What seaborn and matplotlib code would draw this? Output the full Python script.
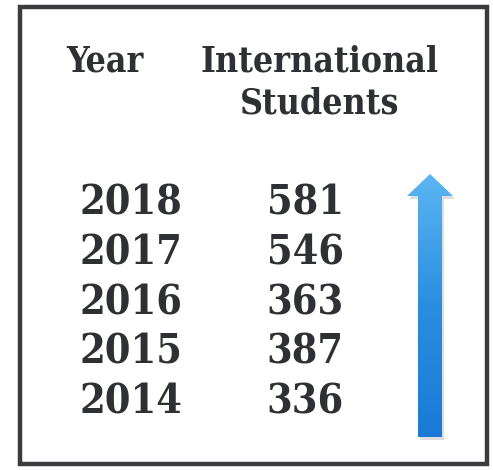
import numpy as np
import pandas as pd
import matplotlib
matplotlib.use("Agg")
import matplotlib.pyplot as plt
import seaborn as sns
from matplotlib.patches import Rectangle, Polygon

years = ["2018", "2017", "2016", "2015", "2014"]
students = [581, 546, 363, 387, 336]
headers = ["Year", "International", "Students"]

sns.set_theme(style="white")
plt.rcParams['font.family'] = ['DejaVu Serif', 'DejaVu Sans']

W, H = 493, 470
fig = plt.figure(figsize=(W / 100, H / 100), dpi=100)
ax = fig.add_axes([0, 0, 1, 1])
ax.set_xlim(0, W)
ax.set_ylim(H, 0)
ax.axis("off")

txt = "#2f3033"
# border
ax.add_patch(Rectangle((20, 7), 467, 457, fill=False, lw=3.2, edgecolor="#3a3b3e"))

# headers
hs = dict(ha="center", va="center", fontsize=25.5, fontweight="bold", color=txt, stretch="condensed")
ax.text(105, 61, headers[0], **hs)
ax.text(320, 61, headers[1], **hs)
ax.text(320, 104, headers[2], **hs)

# rows
df = pd.DataFrame({"year": years, "students": students})
row_y0, row_dy = 203.5, 49.8
rs = dict(ha="center", va="center", fontsize=29.5, fontweight="bold", color=txt, stretch="condensed")
for i, r in df.iterrows():
    y = row_y0 + i * row_dy
    ax.text(131, y, r["year"], **rs)
    ax.text(305, y, str(r["students"]), **rs)

# arrow with gradient
pts = [(418, 437), (418, 196), (407, 196), (430, 174), (453, 196), (442, 196), (442, 437)]
shadow = Polygon([(x + 2, y + 3) for x, y in pts], closed=True, facecolor="#c8c8c8", edgecolor="none", alpha=0.6)
ax.add_patch(shadow)
poly = Polygon(pts, closed=True, facecolor="none", edgecolor="none")
ax.add_patch(poly)
cmap = matplotlib.colors.LinearSegmentedColormap.from_list("arr", ["#5cb6f2", "#2a8ee0", "#1a7ad6"])
grad = np.linspace(0, 1, 256).reshape(-1, 1)
im = ax.imshow(grad, extent=(405, 455, 438, 172), cmap=cmap, aspect="auto", zorder=3, origin="upper")
im.set_clip_path(poly)
ax.set_xlim(0, W)
ax.set_ylim(H, 0)

fig.savefig("out.png", dpi=100, facecolor="white")
